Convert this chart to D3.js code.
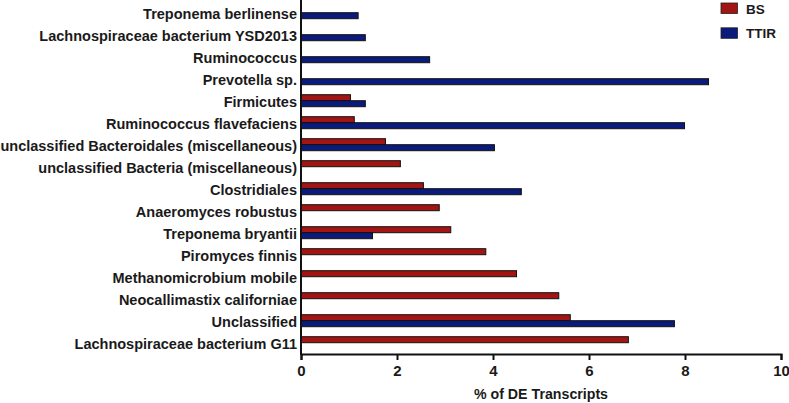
<!DOCTYPE html>
<html>
<head>
<meta charset="utf-8">
<script src="https://cdn.jsdelivr.net/npm/d3@7"></script>
<style>
  body { margin: 0; background: #fff; }
  text { font-family: "Liberation Sans", Arial, sans-serif; font-weight: bold; fill: #1a1a1a; }
</style>
</head>
<body>
<svg id="viz" width="789" height="403"></svg>
<script>
// Horizontal grouped bars, BS vs TTIR

var categories = [
    "Treponema berlinense",
    "Lachnospiraceae bacterium YSD2013",
    "Ruminococcus",
    "Prevotella sp.",
    "Firmicutes",
    "Ruminococcus flavefaciens",
    "unclassified Bacteroidales (miscellaneous)",
    "unclassified Bacteria (miscellaneous)",
    "Clostridiales",
    "Anaeromyces robustus",
    "Treponema bryantii",
    "Piromyces finnis",
    "Methanomicrobium mobile",
    "Neocallimastix californiae",
    "Unclassified",
    "Lachnospiraceae bacterium G11"
];
// null = no bar for that series
var bsValues = [null, null, null, null, 1.03, 1.11, 1.76, 2.07, 2.55, 2.88, 3.12, 3.85, 4.49, 5.37, 5.61, 6.82];
var ttirValues = [1.19, 1.34, 2.68, 8.49, 1.34, 7.99, 4.03, null, 4.59, null, 1.49, null, null, null, 7.78, null];
var seriesNames = ["BS", "TTIR"];
var xTicks = [0, 2, 4, 6, 8, 10];

var svg = d3.select("#viz");
var colors = { BS: "#a31512", TTIR: "#0b1b7c" };

var x = d3.scaleLinear().domain([0, 10]).range([301, 781]);
var y = d3.scaleBand().domain(categories).range([1.7, 353.7]);
var barH = 6;

var rows = categories.map((c, i) => ({ cat: c, BS: bsValues[i], TTIR: ttirValues[i] }));

// bars
var g = svg.append("g").attr("class", "bars");
seriesNames.forEach((s, si) => {
    g.selectAll("rect." + s)
        .data(rows.filter(d => d[s] != null))
        .enter()
        .append("rect")
        .attr("class", s)
        .attr("x", x(0))
        .attr("y", d => y(d.cat) + y.bandwidth() / 2 - barH + si * barH)
        .attr("width", d => x(d[s]) - x(0))
        .attr("height", barH)
        .attr("fill", colors[s])
        .attr("stroke", "#111")
        .attr("stroke-width", 1);
});

// category labels
svg.append("g")
    .selectAll("text")
    .data(categories)
    .enter()
    .append("text")
    .attr("x", 297)
    .attr("y", d => y(d) + y.bandwidth() / 2)
    .attr("dy", "0.4em")
    .attr("text-anchor", "end")
    .attr("font-size", 14.5)
    .text(d => d);

// y axis line
svg.append("line")
    .attr("x1", x(0)).attr("x2", x(0))
    .attr("y1", 0).attr("y2", 355)
    .attr("stroke", "#111").attr("stroke-width", 2);

// x axis
var xAxis = d3.axisBottom(x).tickValues(xTicks).tickSize(6).tickPadding(5).tickFormat(d3.format("d"));
var ax = svg.append("g")
    .attr("transform", "translate(0,354)")
    .call(xAxis);
ax.select(".domain").attr("stroke", "#111").attr("stroke-width", 2);
ax.selectAll(".tick line").attr("stroke", "#111").attr("stroke-width", 2);
ax.selectAll(".tick text")
    .attr("font-size", 15)
    .attr("font-family", "Liberation Sans, Arial, sans-serif")
    .attr("font-weight", "bold")
    .attr("fill", "#1a1a1a");

svg.append("text")
    .attr("x", (x(0) + x(10)) / 2)
    .attr("y", 399)
    .attr("text-anchor", "middle")
    .attr("font-size", 14.2)
    .text("% of DE Transcripts");

// legend
var legend = svg.append("g").attr("id", "legend");
seriesNames.forEach((s, i) => {
    legend.append("rect")
        .attr("x", 721).attr("y", 3 + i * 24.8)
        .attr("width", 16.5).attr("height", 10.5)
        .attr("fill", colors[s])
        .attr("stroke", "#222").attr("stroke-width", 0.8);
    legend.append("text")
        .attr("x", 746).attr("y", 13.5 + i * 24.8)
        .attr("font-size", 13.5)
        .text(s);
});
</script>
</body>
</html>
